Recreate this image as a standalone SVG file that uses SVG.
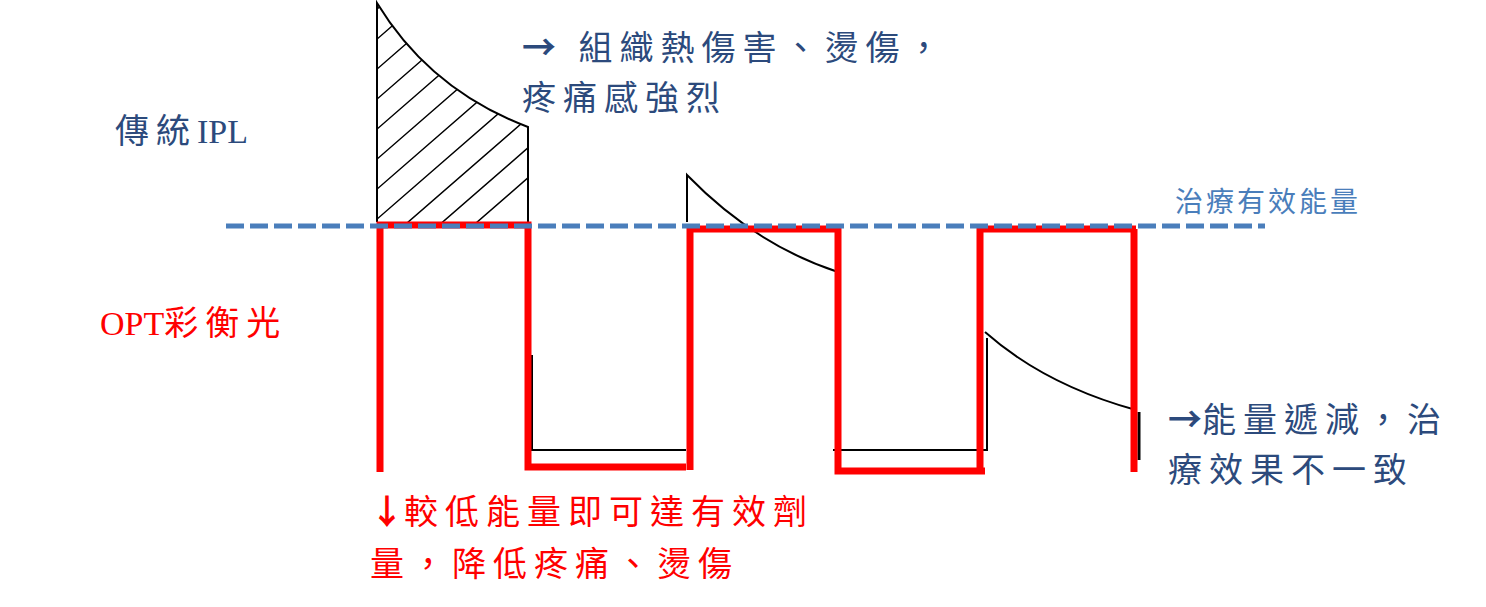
<svg xmlns="http://www.w3.org/2000/svg" width="1486" height="607" viewBox="0 0 1486 607">
<style>
.t{font-family:"Liberation Serif","Noto Sans CJK TC",serif;font-size:34px;letter-spacing:7px}
.lat{letter-spacing:0px}
.ar{font-family:"Noto Sans CJK TC","DejaVu Sans",sans-serif;font-weight:bold}
.navy{fill:#2c4a7c}
.red{fill:#ff0000}
.blk{fill:none;stroke:#000;stroke-width:2}
.r{fill:none;stroke:#ff0000;stroke-width:7}
</style>
<defs>
<clipPath id="c1"><path d="M377,3 Q430,90 528,127 L528,222 L377,222 Z"/></clipPath>
</defs>
<rect width="1486" height="607" fill="#fff"/>
<g id="hatch" clip-path="url(#c1)" stroke="#000" stroke-width="1.5">
<path d="M330,260 L560,60 M330,230 L560,30 M330,200 L560,0 M330,170 L560,-30 M330,140 L560,-60 M330,110 L560,-90 M330,80 L560,-120 M330,50 L560,-150 M330,290 L560,90 M330,320 L560,120 M330,350 L560,150"/>
</g>
<g id="ipl" class="blk">
<path d="M377,222 L377,3 Q430,90 528,127 L528,222"/>
<path d="M687,222 L687,175 Q755,245 838,272"/>
<path d="M532,355 L532,450 L686,450"/>
<path d="M833,450 L987,450 L987,338"/>
<path d="M985,332 Q1045,385 1136,410"/>
<path d="M1139,412 L1139,460" stroke-width="3"/>
</g>
<g id="opt">
<path class="r" d="M380,472 L380,225 L528,225 L528,467 L686,467"/>
<path class="r" d="M690,470 L690,229 L838,229 L838,471 L985,471"/>
<path class="r" d="M980,468 L980,229 L1136,229"/>
<path class="r" d="M1134,229 L1134,472"/>
</g>
<g id="threshold">
<line x1="226" y1="226" x2="1265" y2="226" stroke="#4a7ebb" stroke-width="5" stroke-dasharray="18,6"/>
</g>
<g id="labels">
<text class="t navy" x="115" y="143">傳統<tspan class="lat">IPL</tspan></text>
<text class="t navy" x="522" y="60"><tspan class="ar">→</tspan> 組織熱傷害、燙傷，</text>
<text class="t navy" x="522" y="110">疼痛感強烈</text>
<text class="t" x="1175" y="212" style="font-size:28px;letter-spacing:3px" fill="#4a7ebb">治療有效能量</text>
<text class="t red" x="100" y="335"><tspan class="lat">OPT</tspan>彩衡光</text>
<text class="t navy" x="1168" y="432"><tspan class="ar" letter-spacing="0">→</tspan>能量遞減，治</text>
<text class="t navy" x="1168" y="482">療效果不一致</text>
<text class="t red" x="370" y="524"><tspan class="ar" letter-spacing="0">↓</tspan>較低能量即可達有效劑</text>
<text class="t red" x="370" y="576">量，降低疼痛、燙傷</text>
</g>
</svg>
